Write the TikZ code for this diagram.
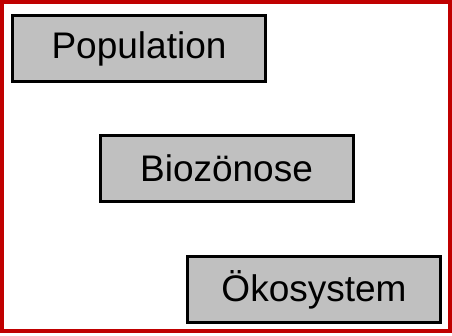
\documentclass[tikz,border=0pt]{standalone}
\usepackage{fontspec}
\setmainfont{Liberation Sans}
\usepackage{tikz}

\definecolor{frame}{HTML}{C00000}
\definecolor{boxgray}{HTML}{C0C0C0}

\begin{document}
\begin{tikzpicture}[x=1pt,y=1pt,
    level/.style={draw=black,fill=boxgray,line width=3pt,minimum width=253pt,
      minimum height=66pt,inner sep=0pt,font=\fontsize{37}{44}\selectfont}]
    \useasboundingbox (0,0) rectangle (452,335);
    % Outer frame
    \draw[frame,line width=4pt] (2,4) rectangle (449.5,333);
    % Levels, stepping down to the right
    \foreach \x/\y/\name/\label in {
      139/286.5/pop/Population,
      226.5/166.5/bio/Biozönose,
      314/45.5/oeko/Ökosystem
    } {
      \node[level] (\name) at (\x,\y) {\label};
    }
  \end{tikzpicture}
\end{document}
